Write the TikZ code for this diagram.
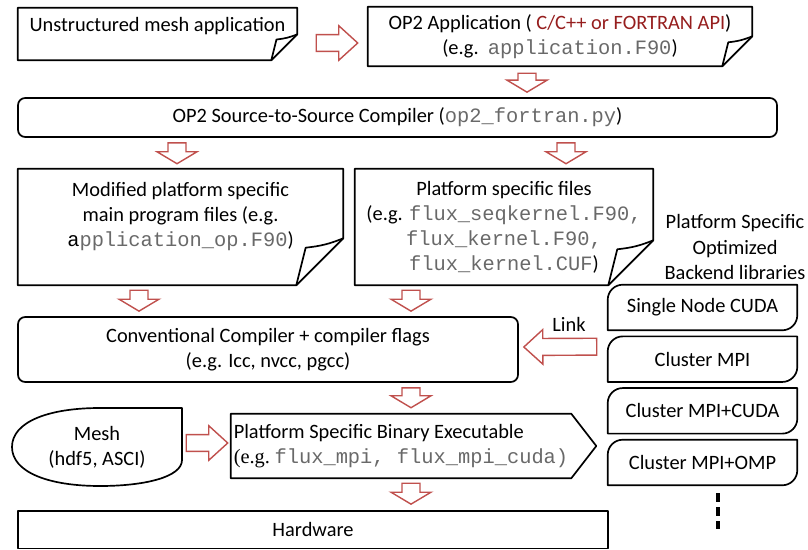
\documentclass[tikz,border=0pt]{standalone}
\usepackage{fontspec}
\setmainfont{Carlito}
\setmonofont{Liberation Mono}
\newfontfamily\egfont{Liberation Serif}
\usetikzlibrary{calc}
\definecolor{arrowred}{RGB}{192,80,77}
\definecolor{apired}{RGB}{150,30,30}
\definecolor{codegray}{RGB}{105,105,105}
\newcommand{\pxl}{0.025cm}
\newcommand{\code}[1]{{\ttfamily\color{codegray}#1}}
% outline of a note box with a folded corner
\newcommand{\notefold}[2]{%
  \draw[boxline] (#1.north west) -- (#1.north east) -- ([yshift=#2*\pxl]#1.south east)
    -- ([xshift=-#2*\pxl]#1.south east) -- (#1.south west) -- cycle;
  \draw[boxline] ([xshift=-#2*\pxl]#1.south east)
    -- ([xshift=-0.8*#2*\pxl,yshift=0.8*#2*\pxl]#1.south east)
    to[bend right=8] ([yshift=#2*\pxl]#1.south east);}
\tikzset{
  boxline/.style={line width=1.2pt,line join=round},
  txt/.style={font=\fontsize{14.5}{17.8}\selectfont,align=center,inner sep=0pt},
  roundbox/.style={txt,draw,boxline,rounded corners=0.18cm},
  libbox/.style={txt,minimum width=189*\pxl,minimum height=45*\pxl},
  fat/.style n args={3}{draw=arrowred,fill=white,line width=1pt,line join=miter,
    to path={let \p1=(\tikztostart), \p2=(\tikztotarget) in
      ($(\p1)!#1!90:(\p2)$) -- ($(\p2)!#3!(\p1)!#1!-90:(\p1)$)
      -- ($(\p2)!#3!(\p1)!#2!-90:(\p1)$) -- (\p2)
      -- ($(\p2)!#3!(\p1)!#2!90:(\p1)$) -- ($(\p2)!#3!(\p1)!#1!90:(\p1)$)
      -- ($(\p1)!#1!-90:(\p2)$) -- cycle}},
  vfat/.style={fat={6.4pt}{14.2pt}{8.5pt}},
  hfat/.style={fat={6pt}{12.3pt}{13.5pt}},
}
\begin{document}
\begin{tikzpicture}[x=0.025cm,y=-0.025cm]
\fill[white] (0,0) rectangle (808,550);
\useasboundingbox (0,0) rectangle (808,550);

% input side
\node[font=\fontsize{14.5}{17.8}\selectfont,inner sep=0pt,minimum width=279*\pxl,
  text height=17pt,text depth=20pt] (unstr) at (157.5,34) {Unstructured mesh application};
\notefold{unstr}{26}
\node[txt,minimum width=384*\pxl,minimum height=59*\pxl] (op2app) at (560,36.5)
  {OP2 Application ( \textcolor{apired}{C/C++ or FORTRAN API})\\(e.g.\ \ \code{application.F90})};
\notefold{op2app}{30}
\node[roundbox,minimum width=759*\pxl,minimum height=39*\pxl] (s2s) at (397.5,117.5)
  {OP2 Source-to-Source Compiler (\code{op2\_fortran.py})};

% generated files
\node[txt,minimum width=325*\pxl,minimum height=116*\pxl] (mainfiles) at (180.5,227)
  {Modified platform specific\\main program files (e.g.\\
   {\ttfamily a}\code{pplication\_op.F90})\\\mbox{}};
\notefold{mainfiles}{47}
\node[txt,minimum width=298*\pxl,minimum height=116*\pxl] (kernels) at (504,227)
  {Platform specific files\\(e.g. \code{flux\_seqkernel.F90,}\\
   \code{flux\_kernel.F90,}\\\code{flux\_kernel.CUF})};
\notefold{kernels}{45}

% backend libraries
\node[txt] (backend) at (735,247) {Platform Specific\\Optimized\\Backend libraries};
\foreach \lbl [count=\i] in {Single Node CUDA,Cluster MPI,Cluster MPI+CUDA,Cluster MPI+OMP}{
  \node[libbox] (lib\i) at (702.5,{307.5+51.67*(\i-1)}) {\lbl};
  \draw[boxline] (lib\i.south west) -- ([yshift=-0.375cm]lib\i.north west)
    arc[start angle=180,end angle=90,radius=0.375cm] -- (lib\i.north east)
    -- ([yshift=0.375cm]lib\i.south east)
    arc[start angle=0,end angle=-90,radius=0.375cm] -- cycle;
}
\draw[line width=2.2pt,dash pattern=on 6.5pt off 3.5pt]
  ($(lib4.south)+(15.5,8)$) -- ($(lib4.south)+(15.5,44)$);

% compile and run
\node[roundbox,minimum width=500*\pxl,minimum height=65*\pxl] (compiler) at (268,349.5)
  {Conventional Compiler + compiler flags\\(e.g. Icc, nvcc, pgcc)};
\node[txt] (link) at (569,324) {Link};
\node[txt,align=left,minimum width=340*\pxl,minimum height=64*\pxl] (binary) at (401,446)
  {Platform Specific Binary Executable\\
   {\egfont (e.g.}\ \code{flux\_mpi,\ flux\_mpi\_cuda)}};
\draw[boxline] (binary.north west) -- (binary.north east) -- ([xshift=25*\pxl]binary.east)
  -- (binary.south east) -- (binary.south west) -- cycle;
\node[txt,minimum width=170*\pxl,minimum height=78*\pxl] (mesh) at (97,447)
  {Mesh\\(hdf5, ASCI)};
\draw[boxline] (182,408) -- (182,460) .. controls (182,477) and (145,486) .. (100,486)
  .. controls (48,486) and (12,472) .. (12,447)
  .. controls (12,422) and (48,408) .. (100,408) -- cycle;
\node[draw,boxline,txt,minimum width=590*\pxl,minimum height=37.5*\pxl] (hardware)
  at (313,529.75) {Hardware};

% block arrows
\draw[hfat] ($(unstr.east)+(19,9)$) to ($(op2app.west)+(-10,6.5)$);
\draw[vfat] ($(op2app.south)+(-33,7)$) to ($(s2s.north)+(129.5,-5)$);
\draw[vfat] ($(s2s.south)+(-220.5,5)$) to ($(mainfiles.north)+(-3.5,-5)$);
\draw[vfat] ($(s2s.south)+(168.5,5)$) to ($(kernels.north)+(62,-5)$);
\draw[vfat] ($(mainfiles.south)+(-41.5,5)$) to ($(compiler.north)+(-129,-5)$);
\draw[vfat] ($(kernels.south)+(-93,5)$) to ($(compiler.north)+(143,-5)$);
\draw[hfat] ($(lib2.west)+(-11,-12.5)$) to ($(compiler.east)+(5,-2.5)$);
\draw[vfat] ($(compiler.south)+(143,5)$) to ($(binary.north)+(10,-6)$);
\draw[hfat] ($(mesh.east)+(4,-4)$) to ($(binary.west)+(-3,-3)$);
\draw[vfat] ($(binary.south)+(10,5)$) to ($(hardware.north)+(98,-6)$);
\end{tikzpicture}
\end{document}
